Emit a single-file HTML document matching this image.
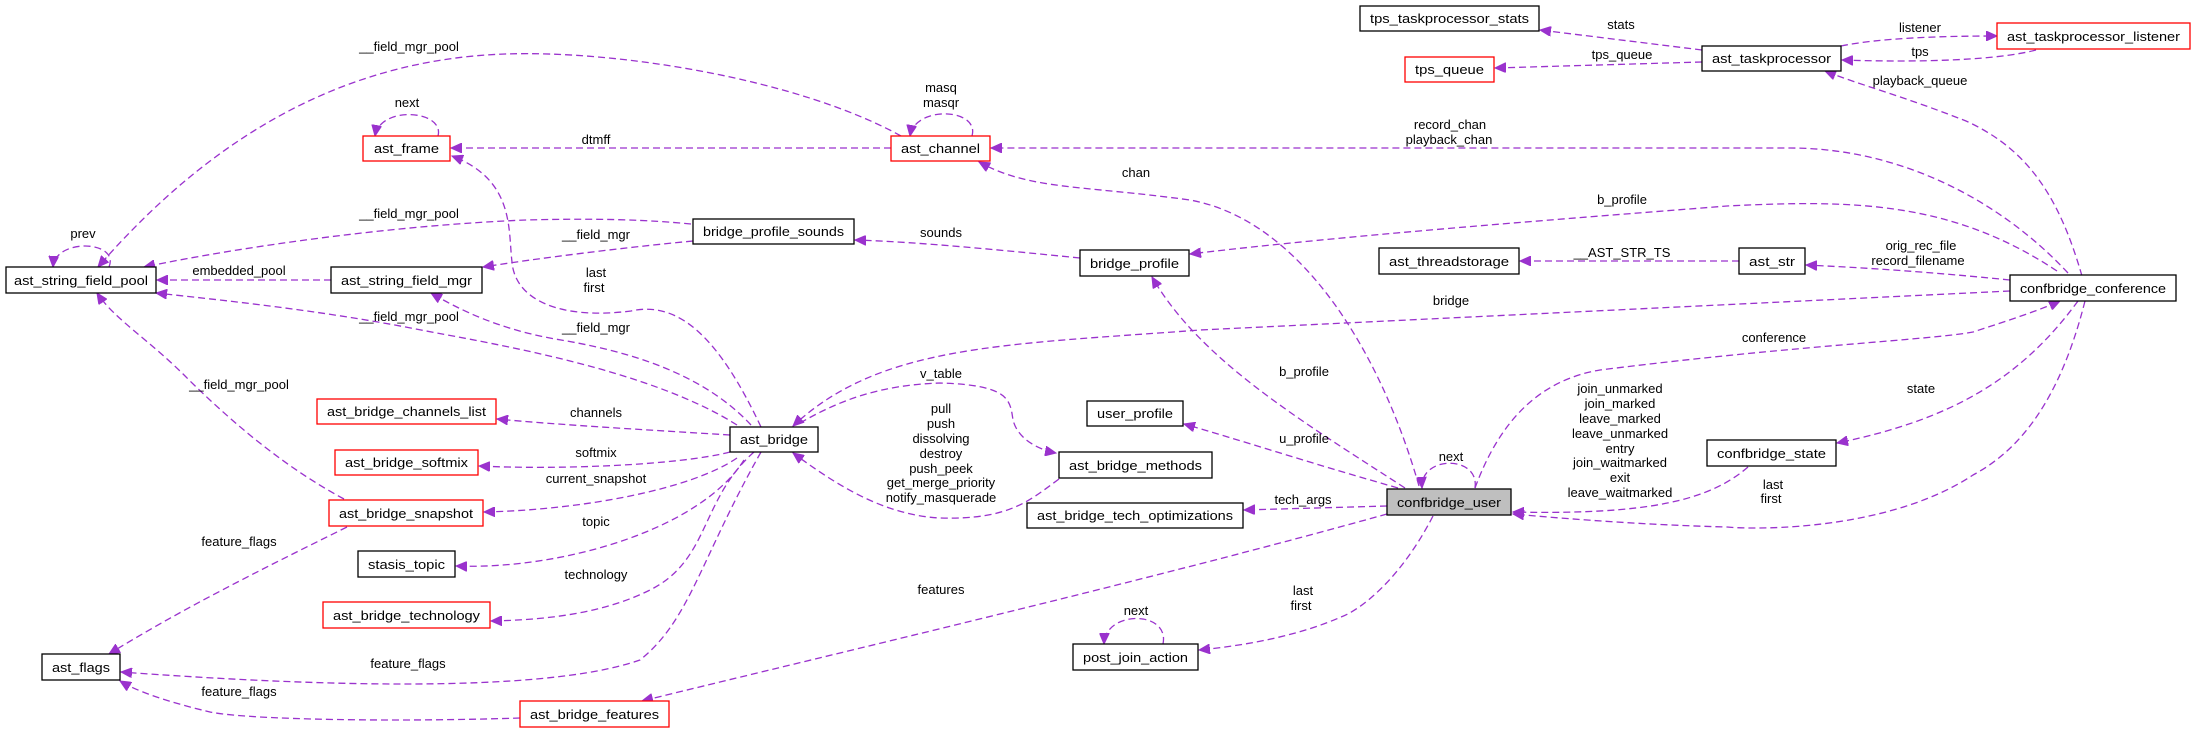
<!DOCTYPE html>
<html><head><meta charset="utf-8"><style>
html,body{margin:0;padding:0;background:#fff;}
svg{display:block;font-family:"Liberation Sans",sans-serif;}
.e{fill:none;stroke:#9a32cd;stroke-width:1.3;stroke-dasharray:7,4;}
.b{fill:#fff;stroke:#000;stroke-width:1.3;}
.r{fill:#fff;stroke:#ff0000;stroke-width:1.3;}
.g{fill:#bfbfbf;stroke:#000;stroke-width:1.3;}
text{font-size:13px;fill:#000;}
.l{text-anchor:middle;}
</style></head><body>
<svg width="2196" height="729" viewBox="0 0 2196 729" xmlns="http://www.w3.org/2000/svg">
<defs><marker id="a" markerUnits="userSpaceOnUse" markerWidth="12" markerHeight="10" refX="11" refY="5" orient="auto"><path d="M0,0 L11,5 L0,10 z" fill="#9a32cd" stroke="#9a32cd"/></marker></defs>
<g marker-end="url(#a)">
<path class="e" d="M901,136 C800,80 620,50 505,54 C330,60 200,150 98,267"/>
<path class="e" d="M438,136 C445,110 380,105 375,136"/>
<path class="e" d="M972,136 C980,108 915,105 910,136"/>
<path class="e" d="M891,148 L451,148"/>
<path class="e" d="M2068,273 C2000,200 1900,148 1790,148 L991,148"/>
<path class="e" d="M1419,486 C1380,350 1300,220 1190,200 C1080,185 1030,190 979,162"/>
<path class="e" d="M761,427 C720,340 680,300 631,311 C560,320 515,300 512,262 C508,230 515,180 452,156"/>
<path class="e" d="M691,224 C650,220 600,218 526,220 C400,225 250,245 144,267"/>
<path class="e" d="M693,241 C620,248 540,258 483,267"/>
<path class="e" d="M1080,258 C1000,250 920,242 855,240"/>
<path class="e" d="M331,280 L157,280"/>
<path class="e" d="M109,267 C120,240 55,238 53,267"/>
<path class="e" d="M737,425 C650,370 500,345 421,330 C320,310 220,300 156,293"/>
<path class="e" d="M751,425 C700,370 620,350 561,340 C500,330 460,310 431,293"/>
<path class="e" d="M344,499 C290,470 240,430 189,380 C150,340 115,320 97,293"/>
<path class="e" d="M730,435 C650,430 560,425 497,419"/>
<path class="e" d="M730,452 C680,465 560,470 479,466"/>
<path class="e" d="M737,458 C690,490 580,510 484,512"/>
<path class="e" d="M744,460 C700,530 560,570 456,566"/>
<path class="e" d="M754,452 C700,500 710,560 650,590 C600,615 540,620 491,621"/>
<path class="e" d="M761,452 C700,560 690,620 640,660 C540,695 300,685 121,672"/>
<path class="e" d="M347,527 C260,570 180,610 109,654"/>
<path class="e" d="M520,718 C400,722 250,720 210,712 C160,700 135,690 120,681"/>
<path class="e" d="M1387,514 C1150,580 850,650 642,701"/>
<path class="e" d="M2010,291 L1200,330 C1000,345 880,345 793,426"/>
<path class="e" d="M1059,479 C1030,500 1010,520 940,518 C880,515 830,480 793,453"/>
<path class="e" d="M800,423 C840,400 880,385 940,383 C1010,385 1010,400 1013,420 C1018,440 1040,450 1056,453"/>
<path class="e" d="M1405,488 C1300,420 1200,360 1152,277"/>
<path class="e" d="M2057,271 C1950,200 1850,200 1727,206 C1550,220 1350,235 1190,254"/>
<path class="e" d="M1739,261 L1520,261"/>
<path class="e" d="M2010,280 C1930,272 1870,268 1806,265"/>
<path class="e" d="M1398,488 C1300,460 1240,440 1184,424"/>
<path class="e" d="M1475,488 C1480,455 1420,455 1422,488"/>
<path class="e" d="M1387,506 L1244,510"/>
<path class="e" d="M1475,488 C1500,420 1540,380 1600,370 C1800,345 1930,340 1973,332 C2010,320 2040,310 2060,301"/>
<path class="e" d="M1748,467 C1710,500 1650,515 1513,512"/>
<path class="e" d="M2078,301 C2020,380 1950,420 1837,443"/>
<path class="e" d="M2085,301 C2060,400 2020,450 1973,475 C1890,530 1760,530 1727,527 C1650,525 1580,520 1513,514"/>
<path class="e" d="M1433,516 C1400,580 1360,610 1341,617 C1300,635 1250,645 1199,650"/>
<path class="e" d="M1163,644 C1170,610 1105,610 1104,644"/>
<path class="e" d="M2082,276 C2060,200 2030,150 1966,121 C1900,95 1860,85 1825,71"/>
<path class="e" d="M1702,50 L1540,30"/>
<path class="e" d="M1702,62 L1495,68"/>
<path class="e" d="M1841,46 C1880,38 1940,36 1997,36"/>
<path class="e" d="M2036,50 C1990,62 1900,62 1842,60"/>
</g>
<g>
<rect class="b" x="6" y="267" width="150" height="26"/><text x="14" y="285" textLength="134" lengthAdjust="spacingAndGlyphs">ast_string_field_pool</text>
<rect class="r" x="363" y="136" width="87" height="25"/><text x="374" y="153" textLength="65" lengthAdjust="spacingAndGlyphs">ast_frame</text>
<rect class="r" x="891" y="136" width="99" height="25"/><text x="901" y="153" textLength="79" lengthAdjust="spacingAndGlyphs">ast_channel</text>
<rect class="b" x="693" y="219" width="161" height="25"/><text x="703" y="236" textLength="141" lengthAdjust="spacingAndGlyphs">bridge_profile_sounds</text>
<rect class="b" x="331" y="267" width="151" height="26"/><text x="341" y="285" textLength="131" lengthAdjust="spacingAndGlyphs">ast_string_field_mgr</text>
<rect class="r" x="317" y="399" width="179" height="25"/><text x="327" y="416" textLength="159" lengthAdjust="spacingAndGlyphs">ast_bridge_channels_list</text>
<rect class="r" x="335" y="450" width="143" height="25"/><text x="345" y="467" textLength="123" lengthAdjust="spacingAndGlyphs">ast_bridge_softmix</text>
<rect class="r" x="329" y="500" width="154" height="26"/><text x="339" y="518" textLength="134" lengthAdjust="spacingAndGlyphs">ast_bridge_snapshot</text>
<rect class="b" x="358" y="551" width="97" height="26"/><text x="368" y="569" textLength="77" lengthAdjust="spacingAndGlyphs">stasis_topic</text>
<rect class="r" x="323" y="602" width="167" height="26"/><text x="333" y="620" textLength="147" lengthAdjust="spacingAndGlyphs">ast_bridge_technology</text>
<rect class="b" x="42" y="654" width="78" height="26"/><text x="52" y="672" textLength="58" lengthAdjust="spacingAndGlyphs">ast_flags</text>
<rect class="r" x="520" y="701" width="149" height="26"/><text x="530" y="719" textLength="129" lengthAdjust="spacingAndGlyphs">ast_bridge_features</text>
<rect class="b" x="730" y="427" width="88" height="25"/><text x="740" y="444" textLength="68" lengthAdjust="spacingAndGlyphs">ast_bridge</text>
<rect class="b" x="1059" y="452" width="153" height="26"/><text x="1069" y="470" textLength="133" lengthAdjust="spacingAndGlyphs">ast_bridge_methods</text>
<rect class="b" x="1027" y="503" width="216" height="25"/><text x="1037" y="520" textLength="196" lengthAdjust="spacingAndGlyphs">ast_bridge_tech_optimizations</text>
<rect class="b" x="1073" y="644" width="125" height="26"/><text x="1083" y="662" textLength="105" lengthAdjust="spacingAndGlyphs">post_join_action</text>
<rect class="b" x="1080" y="250" width="109" height="26"/><text x="1090" y="268" textLength="89" lengthAdjust="spacingAndGlyphs">bridge_profile</text>
<rect class="b" x="1087" y="401" width="96" height="25"/><text x="1097" y="418" textLength="76" lengthAdjust="spacingAndGlyphs">user_profile</text>
<rect class="b" x="1360" y="6" width="179" height="25"/><text x="1370" y="23" textLength="159" lengthAdjust="spacingAndGlyphs">tps_taskprocessor_stats</text>
<rect class="r" x="1405" y="57" width="89" height="25"/><text x="1415" y="74" textLength="69" lengthAdjust="spacingAndGlyphs">tps_queue</text>
<rect class="b" x="1702" y="46" width="139" height="25"/><text x="1712" y="63" textLength="119" lengthAdjust="spacingAndGlyphs">ast_taskprocessor</text>
<rect class="r" x="1997" y="23" width="193" height="26"/><text x="2007" y="41" textLength="173" lengthAdjust="spacingAndGlyphs">ast_taskprocessor_listener</text>
<rect class="b" x="1379" y="248" width="140" height="26"/><text x="1389" y="266" textLength="120" lengthAdjust="spacingAndGlyphs">ast_threadstorage</text>
<rect class="b" x="1739" y="248" width="66" height="26"/><text x="1749" y="266" textLength="46" lengthAdjust="spacingAndGlyphs">ast_str</text>
<rect class="b" x="2010" y="275" width="166" height="26"/><text x="2020" y="293" textLength="146" lengthAdjust="spacingAndGlyphs">confbridge_conference</text>
<rect class="b" x="1707" y="440" width="129" height="26"/><text x="1717" y="458" textLength="109" lengthAdjust="spacingAndGlyphs">confbridge_state</text>
<rect class="g" x="1387" y="489" width="124" height="26"/><text x="1397" y="507" textLength="104" lengthAdjust="spacingAndGlyphs">confbridge_user</text>
</g>
<g class="l">
<text class="l" x="409" y="51">__field_mgr_pool</text>
<text class="l" x="941" y="92">masq</text><text class="l" x="941" y="107">masqr</text>
<text class="l" x="407" y="107">next</text>
<text class="l" x="596" y="144">dtmff</text>
<text class="l" x="83" y="238">prev</text>
<text class="l" x="409" y="218">__field_mgr_pool</text>
<text class="l" x="596" y="239">__field_mgr</text>
<text class="l" x="941" y="237">sounds</text>
<text class="l" x="239" y="275">embedded_pool</text>
<text class="l" x="596" y="277">last</text><text class="l" x="594" y="292">first</text>
<text class="l" x="409" y="321">__field_mgr_pool</text>
<text class="l" x="596" y="332">__field_mgr</text>
<text class="l" x="239" y="389">__field_mgr_pool</text>
<text class="l" x="941" y="378">v_table</text>
<text class="l" x="596" y="417">channels</text>
<text class="l" x="941" y="413">pull</text><text class="l" x="941" y="428">push</text><text class="l" x="941" y="443">dissolving</text><text class="l" x="941" y="458">destroy</text><text class="l" x="941" y="473">push_peek</text><text class="l" x="941" y="487">get_merge_priority</text><text class="l" x="941" y="502">notify_masquerade</text>
<text class="l" x="596" y="457">softmix</text>
<text class="l" x="596" y="483">current_snapshot</text>
<text class="l" x="596" y="526">topic</text>
<text class="l" x="239" y="546">feature_flags</text>
<text class="l" x="596" y="579">technology</text>
<text class="l" x="941" y="594">features</text>
<text class="l" x="408" y="668">feature_flags</text>
<text class="l" x="239" y="696">feature_flags</text>
<text class="l" x="1621" y="29">stats</text>
<text class="l" x="1920" y="32">listener</text>
<text class="l" x="1622" y="59">tps_queue</text>
<text class="l" x="1920" y="56">tps</text>
<text class="l" x="1920" y="85">playback_queue</text>
<text class="l" x="1450" y="129">record_chan</text><text class="l" x="1449" y="144">playback_chan</text>
<text class="l" x="1136" y="177">chan</text>
<text class="l" x="1622" y="204">b_profile</text>
<text class="l" x="1622" y="257">__AST_STR_TS</text>
<text class="l" x="1921" y="250">orig_rec_file</text><text class="l" x="1918" y="265">record_filename</text>
<text class="l" x="1451" y="305">bridge</text>
<text class="l" x="1774" y="342">conference</text>
<text class="l" x="1304" y="376">b_profile</text>
<text class="l" x="1620" y="393">join_unmarked</text><text class="l" x="1620" y="408">join_marked</text><text class="l" x="1620" y="423">leave_marked</text><text class="l" x="1620" y="438">leave_unmarked</text><text class="l" x="1620" y="453">entry</text><text class="l" x="1620" y="467">join_waitmarked</text><text class="l" x="1620" y="482">exit</text><text class="l" x="1620" y="497">leave_waitmarked</text>
<text class="l" x="1921" y="393">state</text>
<text class="l" x="1304" y="443">u_profile</text>
<text class="l" x="1451" y="461">next</text>
<text class="l" x="1773" y="489">last</text><text class="l" x="1771" y="503">first</text>
<text class="l" x="1303" y="504">tech_args</text>
<text class="l" x="1303" y="595">last</text><text class="l" x="1301" y="610">first</text>
<text class="l" x="1136" y="615">next</text>
</g>
</svg>
</body></html>
